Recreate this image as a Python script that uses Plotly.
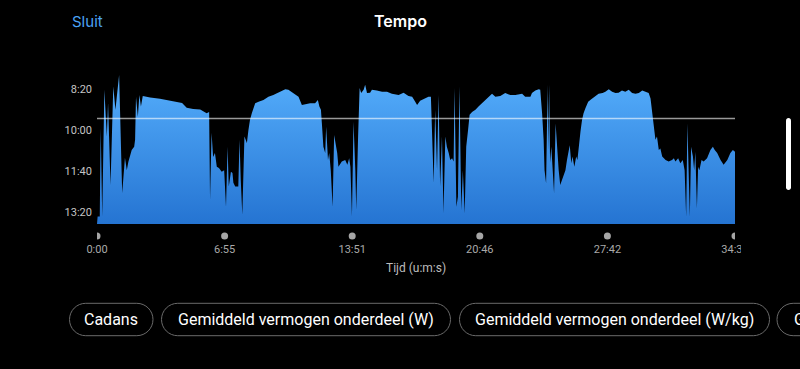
import plotly.graph_objects as go

# ---------------- data ----------------
# elapsed time (s) and pace (s per km)
time_s = [2, 9, 12, 17, 24, 32, 36, 44, 53, 60, 72, 77, 82, 91, 97, 102, 113, 121, 124, 127,
          133, 138, 143, 149, 173, 205, 231, 260, 277, 292, 313, 336, 345, 357, 365, 368, 373, 378, 384, 390,
          397, 406, 414, 420, 425, 429, 436, 441, 444, 450, 460, 464, 468, 473, 480, 488, 493, 498, 504, 515,
          526, 542, 558, 574, 596, 613, 623, 640, 656, 667, 678, 694, 710, 719, 724, 729, 732, 737, 743, 746,
          752, 756, 761, 767, 772, 778, 782, 786, 797, 808, 815, 821, 825, 830, 835, 841, 844, 850, 855, 860,
          868, 873, 879, 889, 895, 911, 928, 944, 960, 982, 998, 1014, 1026, 1036, 1042, 1052, 1069, 1079, 1087, 1090,
          1096, 1101, 1107, 1112, 1117, 1123, 1128, 1134, 1139, 1145, 1150, 1156, 1161, 1164, 1170, 1175, 1180, 1186, 1191, 1197,
          1202, 1208, 1213, 1221, 1232, 1242, 1253, 1264, 1275, 1286, 1297, 1313, 1329, 1346, 1362, 1384, 1394, 1411, 1416, 1427,
          1438, 1443, 1449, 1454, 1457, 1462, 1467, 1469, 1472, 1475, 1479, 1483, 1488, 1493, 1498, 1503, 1508, 1514, 1519, 1525,
          1530, 1535, 1539, 1544, 1548, 1554, 1560, 1564, 1568, 1574, 1579, 1584, 1590, 1599, 1609, 1622, 1633, 1646, 1655, 1666,
          1677, 1688, 1698, 1709, 1720, 1731, 1742, 1753, 1764, 1775, 1785, 1796, 1802, 1807, 1812, 1818, 1823, 1829, 1834, 1840,
          1851, 1861, 1872, 1878, 1883, 1892, 1899, 1907, 1913, 1918, 1922, 1925, 1930, 1934, 1940, 1944, 1948, 1953, 1957, 1961,
          1968, 1975, 1986, 1997, 2005, 2011, 2019, 2030, 2040, 2052, 2062, 2070, 2077]
pace_s = [811, 811, 596, 811, 502, 616, 534, 734, 494, 551, 466, 600, 754, 668, 698, 678, 649, 641, 624, 519,
          568, 515, 543, 517, 521, 524, 527, 531, 534, 546, 549, 550, 554, 559, 556, 771, 607, 666, 656, 690,
          693, 702, 698, 787, 641, 738, 702, 705, 729, 738, 738, 624, 722, 807, 616, 632, 600, 576, 559, 535,
          531, 527, 519, 515, 507, 501, 502, 510, 519, 539, 537, 535, 535, 527, 543, 551, 583, 641, 656, 592,
          673, 656, 698, 787, 612, 641, 656, 690, 677, 673, 685, 669, 690, 811, 580, 698, 795, 616, 498, 510,
          502, 490, 510, 509, 502, 504, 507, 507, 512, 515, 509, 517, 519, 531, 539, 529, 523, 519, 519, 576,
          729, 551, 698, 515, 738, 616, 803, 616, 641, 656, 673, 669, 677, 498, 787, 763, 494, 795, 698, 803,
          641, 600, 563, 556, 551, 543, 535, 527, 520, 512, 519, 517, 510, 515, 515, 512, 519, 519, 510, 504,
          501, 502, 559, 624, 698, 730, 490, 649, 490, 680, 641, 698, 754, 584, 649, 698, 734, 722, 714, 698,
          673, 649, 637, 681, 665, 690, 665, 673, 641, 604, 576, 559, 547, 531, 525, 519, 512, 510, 507, 501,
          507, 510, 509, 504, 507, 502, 510, 512, 510, 504, 507, 510, 523, 551, 592, 624, 616, 649, 645, 665,
          673, 677, 673, 669, 677, 669, 681, 673, 698, 811, 584, 698, 811, 641, 665, 698, 653, 791, 690, 698,
          673, 677, 669, 649, 641, 649, 656, 673, 685, 673, 656, 649, 653]
avg_pace = 572
total_time = 2077

x_tick_vals = [0, 415.4, 830.8, 1246.2, 1661.6, 2077]
x_tick_text = ["0:00", "6:55", "13:51", "20:46", "27:42", "34:37"]
y_tick_vals = [500, 600, 700, 800]
y_tick_text = ["8:20", "10:00", "11:40", "13:20"]
y_range = [829.3, 466]          # reversed: slow at bottom, fast at top

buttons = ["Cadans", "Gemiddeld vermogen onderdeel (W)",
           "Gemiddeld vermogen onderdeel (W/kg)", "G"]

# ---------------- layout helpers ----------------
W, H = 800, 369
L, R, T, B = 97, 65, 75, 145
PW, PH = W - L - R, H - T - B


def px(x):
    return (x - L) / PW


def py(y):
    return (H - B - y) / PH


def round_rect_path(x0, x1, y0, y1):
    r = min(x1 - x0, y1 - y0) / 2
    k = 0.5523 * r
    pts = [("M", [(x0 + r, y0)]),
           ("L", [(x1 - r, y0)]),
           ("C", [(x1 - r + k, y0), (x1, y0 + r - k), (x1, y0 + r)]),
           ("L", [(x1, y1 - r)]),
           ("C", [(x1, y1 - r + k), (x1 - r + k, y1), (x1 - r, y1)]),
           ("L", [(x0 + r, y1)]),
           ("C", [(x0 + r - k, y1), (x0, y1 - r + k), (x0, y1 - r)]),
           ("L", [(x0, y0 + r)]),
           ("C", [(x0, y0 + r - k), (x0 + r - k, y0), (x0 + r, y0)])]
    s = ""
    for cmd, ps in pts:
        s += cmd + " " + " ".join(f"{px(a):.5f},{py(b):.5f}" for a, b in ps) + " "
    return s + "Z"


fig = go.Figure()

# baseline for the area fill
fig.add_trace(go.Scatter(x=[0, total_time], y=[y_range[0], y_range[0]], mode="lines",
                         line=dict(width=0), hoverinfo="skip", showlegend=False))
fig.add_trace(go.Scatter(
    x=time_s, y=pace_s, mode="lines", line=dict(width=0, color="#3c93ea"),
    fill="tonexty",
    fillgradient=dict(type="vertical", start=y_range[0], stop=y_range[1],
                      colorscale=[[0, "#2574d2"], [1, "#55aefc"]]),
    hoverinfo="skip", showlegend=False))

shapes = [
    dict(type="line", xref="x", yref="y", x0=0, x1=total_time, y0=avg_pace, y1=avg_pace,
         line=dict(color="rgba(255,255,255,0.6)", width=1.5), layer="above"),
    # clip last x tick label like the app does
    dict(type="rect", xref="paper", yref="paper", x0=px(741), x1=px(805), y0=py(262), y1=py(238),
         fillcolor="black", line=dict(width=0), layer="above"),
    # scroll indicator
    dict(type="path", xref="paper", yref="paper", path=round_rect_path(786, 791, 118, 190),
         fillcolor="white", line=dict(width=0), layer="above"),
]

# tick dots under the x axis, placed at each tick value
for tv in x_tick_vals:
    shapes.append(dict(type="circle", xref="x", xsizemode="pixel", xanchor=tv, x0=-3.5, x1=3.5,
                       yref="paper", ysizemode="pixel", yanchor=py(236), y0=-3.5, y1=3.5,
                       fillcolor="#a6a6a6", line=dict(width=0), layer="above"))

pill_bounds = [(69.5, 153), (161.5, 450.5), (459.5, 769.5), (777, 950)]
pill_y0, pill_y1 = 303.3, 335.7
annotations = []
for (a, b), label in zip(pill_bounds, buttons):
    shapes.append(dict(type="path", xref="paper", yref="paper", path=round_rect_path(a, b, pill_y0, pill_y1),
                       line=dict(color="#6a6a6a", width=1), fillcolor="rgba(0,0,0,0)", layer="above"))
    if label == "G":
        annotations.append(dict(x=px(792), y=py((pill_y0 + pill_y1) / 2), xref="paper", yref="paper",
                                text=label, showarrow=False, xanchor="left", yanchor="middle",
                                font=dict(family="Roboto", size=16, color="white")))
    else:
        annotations.append(dict(x=px((a + b) / 2), y=py((pill_y0 + pill_y1) / 2), xref="paper", yref="paper",
                                text=label, showarrow=False, xanchor="center", yanchor="middle",
                                font=dict(family="Roboto", size=16, color="white")))

annotations.append(dict(x=px(70), y=py(21.5), xref="paper", yref="paper", text="Sluit",
                        showarrow=False, xanchor="left", yanchor="middle",
                        font=dict(family="Inter", size=15, color="#4ba3f5")))
annotations.append(dict(x=px(400), y=py(21.5), xref="paper", yref="paper", text="Tempo",
                        showarrow=False, xanchor="center", yanchor="middle",
                        font=dict(family="Inter", size=16, color="white", weight=600)))
annotations.append(dict(x=px(416), y=py(268), xref="paper", yref="paper", text="Tijd (u:m:s)",
                        showarrow=False, xanchor="center", yanchor="middle",
                        font=dict(family="Roboto", size=12, color="#bdbdbd")))

fig.update_layout(
    width=W, height=H, margin=dict(l=L, r=R, t=T, b=B, autoexpand=False),
    paper_bgcolor="black", plot_bgcolor="black",
    shapes=shapes, annotations=annotations, showlegend=False, hovermode=False,
    xaxis=dict(range=[0, total_time], tickvals=x_tick_vals, ticktext=x_tick_text,
               showgrid=False, zeroline=False, showline=False, ticks="",
               tickfont=dict(family="Roboto", size=11, color="#a9a9a9"), ticklabelstandoff=17,
               fixedrange=True),
    yaxis=dict(range=y_range, tickvals=y_tick_vals, ticktext=y_tick_text,
               showgrid=False, zeroline=False, showline=False, ticks="",
               tickfont=dict(family="Roboto", size=11, color="#c4c4c4"), ticklabelstandoff=4,
               fixedrange=True),
)

fig.write_html("out.html", config=dict(displayModeBar=False),
               post_script="document.body.style.margin='0';document.body.style.background='black';")
